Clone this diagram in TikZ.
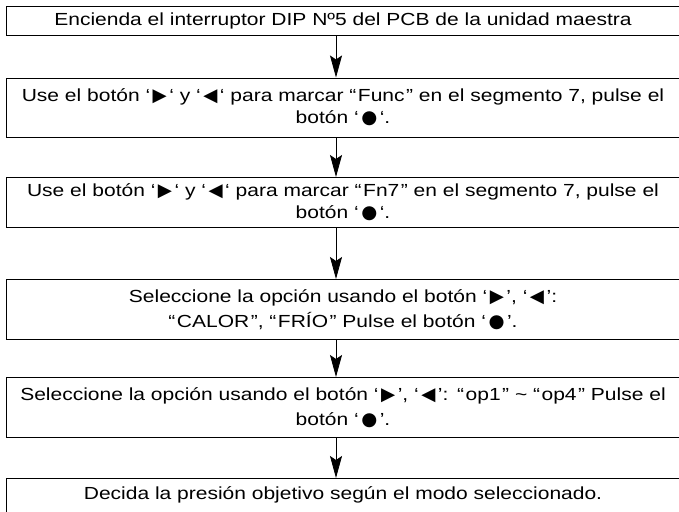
\documentclass[tikz,border=0pt]{standalone}
\usepackage{fontspec}
\setmainfont{Liberation Sans}[FakeStretch=1.2]
\newfontfamily\symfont{DejaVu Sans}[Scale=1.05]
\usetikzlibrary{arrows.meta}
\newcommand{\btn}[1]{\kern2.5pt{\symfont #1}\kern2.5pt}
\newcommand{\dq}[1]{“\kern1.5pt#1\kern1.5pt”}

\begin{document}
\begin{tikzpicture}
[
    x=1pt, y=-1pt,
    stepbox/.style={draw, rectangle, line width=0.8pt, anchor=north, inner sep=0pt,
        minimum width=674pt, text width=674pt, align=center,
        font=\fontsize{17.5}{22}\selectfont},
    flow/.style={line width=0.8pt, -{Stealth[length=22pt, width=12pt, inset=4pt]}}
]
    \useasboundingbox (0,0) rectangle (679,511);
    \clip (0,0) rectangle (679,511);
    \coordinate (axis) at (336,0);

    \node [stepbox, minimum height=29pt] (step1) at (343,6)
        {Encienda el interruptor DIP Nº5 del PCB de la unidad maestra};
    \node [stepbox, minimum height=59.5pt] (step2) at (343,77.5)
        {Use el botón ‘\btn{▶}‘ y ‘\btn{◀}‘ para marcar \dq{Func} en el segmento 7, pulse el\\
         botón ‘\btn{●}‘.};
    \node [stepbox, minimum height=50pt] (step3) at (343,177)
        {Use el botón ‘\btn{▶}‘ y ‘\btn{◀}‘ para marcar \dq{Fn7} en el segmento 7, pulse el\\
         botón ‘\btn{●}‘.};
    \node [stepbox, minimum height=60pt] (step4) at (343,279)
        {Seleccione la opción usando el botón ‘\btn{▶}’, ‘\btn{◀}’:\\[3pt]
         \dq{CALOR}, \dq{FRÍO} Pulse el botón ‘\btn{●}’.};
    \node [stepbox, minimum height=60pt] (step5) at (343,377)
        {Seleccione la opción usando el botón ‘\btn{▶}’, ‘\btn{◀}’: \dq{op1} \textasciitilde{} \dq{op4} Pulse el\\[3pt]
         botón ‘\btn{●}’.};
    \node [stepbox, minimum height=60pt] (step6) at (343,478)
        {Decida la presión objetivo según el modo seleccionado.\\[3pt] \strut};

    \draw [flow] (step1.south -| axis) -- (step2.north -| axis);
    \draw [flow] (step2.south -| axis) -- (step3.north -| axis);
    \draw [flow] (step3.south -| axis) -- (step4.north -| axis);
    \draw [flow] (step4.south -| axis) -- (step5.north -| axis);
    \draw [flow] (step5.south -| axis) -- (step6.north -| axis);
\end{tikzpicture}
\end{document}
